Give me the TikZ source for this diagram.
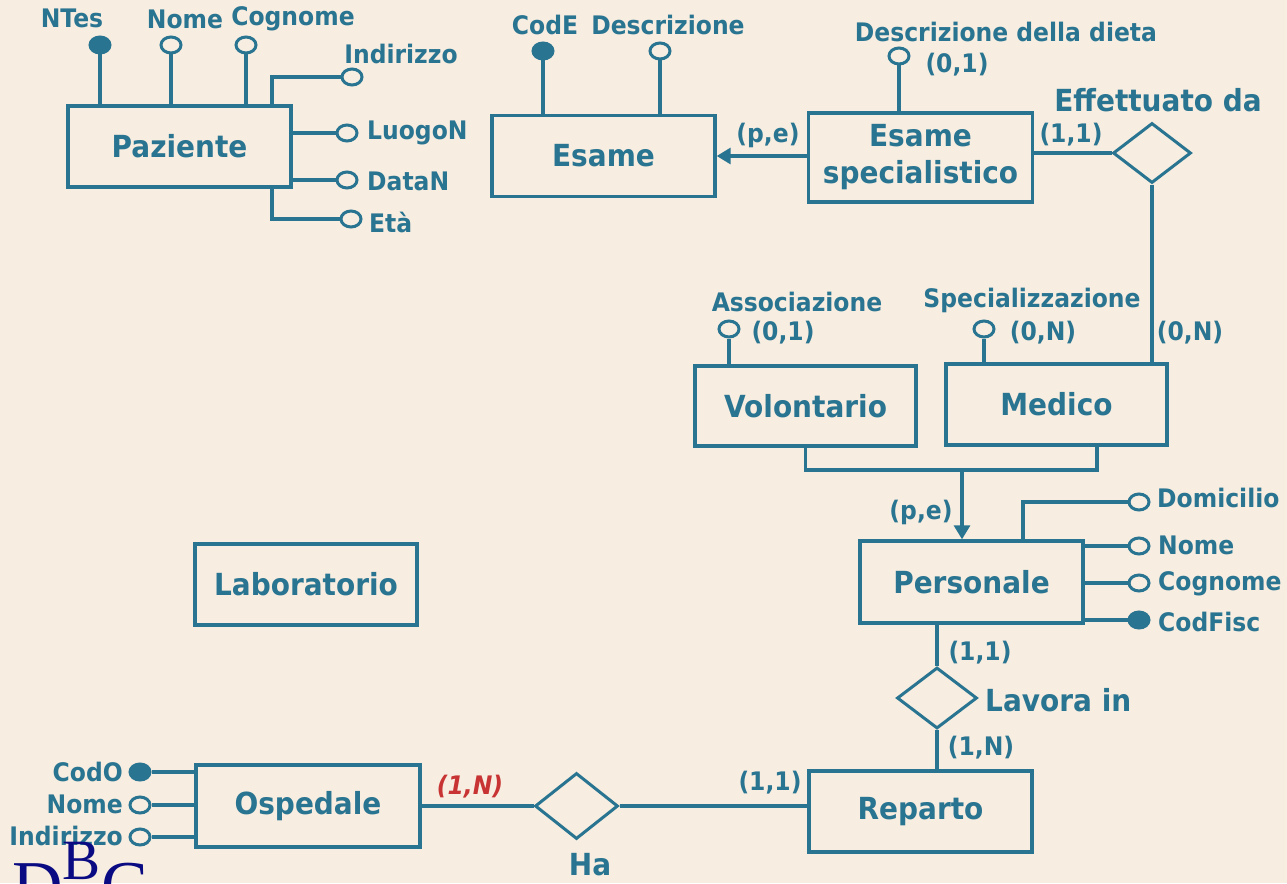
\documentclass[tikz,border=0pt]{standalone}
\usepackage{fontspec}
\setmainfont{DejaVu Sans}[FakeStretch=0.92]
\newfontfamily\logofont{Liberation Serif}
\usetikzlibrary{shapes.geometric,arrows.meta}
\definecolor{er}{RGB}{41,116,145}
\definecolor{bg}{RGB}{247,237,224}
\definecolor{card}{RGB}{200,52,52}
\definecolor{navy}{RGB}{10,10,130}
\tikzset{
 ent/.style={draw=er, line width=3.4pt, minimum width=223pt, minimum height=81pt, inner sep=0pt, text=er, font=\bfseries\fontsize{30.4}{37}\selectfont, align=center},
 rel/.style={diamond, draw=er, line width=3pt, minimum width=78pt, minimum height=60pt, inner sep=0pt},
 attr/.style={ellipse, draw=er, line width=3pt, minimum width=20pt, minimum height=16pt, inner sep=0pt, fill=bg},
 keyattr/.style={attr, fill=er},
 lbl/.style={text=er, font=\bfseries\fontsize{25.5}{28}\selectfont, inner sep=0pt},
 rlbl/.style={text=er, font=\bfseries\fontsize{30.4}{34}\selectfont, inner sep=0pt},
 redlbl/.style={text=card, font=\bfseries\itshape\fontsize{25.5}{28}\selectfont, inner sep=0pt},
 conn/.style={draw=er, line width=3.2pt},
 isa/.style={conn, -{Triangle[length=14pt,width=16pt]}},
}
\begin{document}
\begin{tikzpicture}[x=1pt,y=-1pt]
\fill[bg] (0,0) rectangle (1287,883);
\useasboundingbox (0,0) rectangle (1287,883);
\clip (0,0) rectangle (1287,883);

% entities
\node[ent] (paz) at (179.5,146.5) {Paziente};
\node[ent] (esame) at (603.5,156) {Esame};
\node[ent, minimum width=224pt, minimum height=89pt] (esspec) at (920.5,157.5) {Esame\\specialistico};
\node[ent, minimum width=221pt, minimum height=80pt] (vol) at (805.5,406) {Volontario};
\node[ent, minimum width=221pt] (med) at (1056.5,404.5) {Medico};
\node[ent, minimum height=82pt] (pers) at (971.5,582) {Personale};
\node[ent] (rep) at (920.5,811.5) {Reparto};
\node[ent, minimum width=224pt, minimum height=82pt] (osp) at (308,806) {Ospedale};
\node[ent, minimum width=222pt] (lab) at (306,584.5) {Laboratorio};

% relationships
\node[rel] (eff) at (1152,153) {};
\node[rel, minimum height=61pt, minimum width=80pt] (lav) at (937,698) {};
\node[rel, minimum width=83pt, minimum height=66pt] (ha) at (576.5,806) {};
\node[rlbl] (efflbl) at (1158,100) {Effettuato da};
\node[rlbl, anchor=west] (lavlbl) at (985,700) {Lavora in};
\node[rlbl] (halbl) at (590,865) {Ha};

% Paziente attributes
\coordinate (pk) at (272,0);
\node[keyattr] (ntes) at (100,45) {};
\node[attr] (pnome) at (171,45) {};
\node[attr] (pcogn) at (246,45) {};
\node[attr] (pind) at (352,77) {};
\node[attr] (pluogo) at (347,133) {};
\node[attr] (pdata) at (347,180) {};
\node[attr] (peta) at (351,219) {};
\node[lbl] (ntesl) at (72,18) {NTes};
\node[lbl] (pnomel) at (185,19) {Nome};
\node[lbl] (pcognl) at (293,19) {Cognome};
\node[lbl] (pindl) at (401,54) {Indirizzo};
\node[lbl, anchor=west] (pluogol) at (367,133) {LuogoN};
\node[lbl, anchor=west] (pdatal) at (367,181) {DataN};
\node[lbl, anchor=west] (petal) at (369,222) {Età};
\draw[conn] (ntes) -- (ntes |- paz.north);
\draw[conn] (pnome) -- (pnome |- paz.north);
\draw[conn] (pcogn) -- (pcogn |- paz.north);
\draw[conn] (pind) -| (pk |- paz.north);
\draw[conn] (pluogo) -- (pluogo -| paz.east);
\draw[conn] (pdata) -- (pdata -| paz.east);
\draw[conn] (peta) -| (pk |- paz.south);

% Esame attributes
\node[keyattr] (code) at (543,51) {};
\node[attr] (edesc) at (660,51) {};
\node[lbl] (codel) at (545,25) {CodE};
\node[lbl] (edescl) at (668,25) {Descrizione};
\draw[conn] (code) -- (code |- esame.north);
\draw[conn] (edesc) -- (edesc |- esame.north);

% Esame specialistico
\node[attr] (dieta) at (899,56) {};
\node[lbl] (dietal) at (1006,32) {Descrizione della dieta};
\node[lbl] (dietac) at (957,65) {(0,1)};
\draw[conn] (dieta) -- (dieta |- esspec.north);
\draw[isa] (esspec.west |- esame.east) -- (esame.east);
\node[lbl] (pe1) at (768,135) {(p,e)};
\draw[conn] (eff.west) -- (eff.west -| esspec.east);
\node[lbl] (c11a) at (1071,135) {(1,1)};
\draw[conn] (eff.south) -- (eff.south |- med.north);
\node[lbl] (c0na) at (1190,333) {(0,N)};

% Volontario / Medico
\node[attr] (assoc) at (729,329) {};
\node[lbl] (assocl) at (797,302) {Associazione};
\node[lbl] (assocc) at (783,333) {(0,1)};
\draw[conn] (assoc) -- (assoc |- vol.north);
\node[attr] (spec) at (984,329) {};
\node[lbl] (specl) at (1032,300) {Specializzazione};
\node[lbl] (specc) at (1043,333) {(0,N)};
\draw[conn] (spec) -- (spec |- med.north);

% generalization
\coordinate (g) at (962,470);
\coordinate (mb) at (1097,0);
\draw[conn] (vol.south) |- (g) -| (mb |- med.south);
\draw[isa] (g) -- (g |- pers.north);
\node[lbl] (pe2) at (921,512) {(p,e)};

% Personale attributes
\coordinate (pk2) at (1023,0);
\node[attr] (dom) at (1139,502) {};
\node[attr] (pernome) at (1139,546) {};
\node[attr] (percogn) at (1139,583) {};
\node[keyattr] (codf) at (1139,620) {};
\node[lbl, anchor=west] (doml) at (1157,498) {Domicilio};
\node[lbl, anchor=west] (pernomel) at (1158,545) {Nome};
\node[lbl, anchor=west] (percognl) at (1158,584) {Cognome};
\node[lbl, anchor=west] (codfl) at (1158,622) {CodFisc};
\draw[conn] (dom) -| (pk2 |- pers.north);
\draw[conn] (pernome) -- (pernome -| pers.east);
\draw[conn] (percogn) -- (percogn -| pers.east);
\draw[conn] (codf) -- (codf -| pers.east);

% Lavora in
\draw[conn] (lav.north) -- (lav.north |- pers.south);
\draw[conn] (lav.south) -- (lav.south |- rep.north);
\node[lbl] (c11b) at (980,653) {(1,1)};
\node[lbl] (c1nb) at (981,748) {(1,N)};

% Ha
\draw[conn] (ha.west) -- (ha.west -| osp.east);
\draw[conn] (ha.east) -- (ha.east -| rep.west);
\node[lbl] (c11c) at (770,783) {(1,1)};
\node[redlbl] (c1nc) at (470,787) {(1,N)};

% Ospedale attributes
\node[keyattr] (codo) at (140,772) {};
\node[attr] (onome) at (140,805) {};
\node[attr] (oind) at (140,837) {};
\node[lbl, anchor=east] (codol) at (123,772) {CodO};
\node[lbl, anchor=east] (onomel) at (123,804) {Nome};
\node[lbl, anchor=east] (oindl) at (123,836) {Indirizzo};
\draw[conn] (codo) -- (codo -| osp.west);
\draw[conn] (onome) -- (onome -| osp.west);
\draw[conn] (oind) -- (oind -| osp.west);

% logo
\node[anchor=base west, inner sep=0pt, text=navy, font=\logofont\fontsize{70}{70}\selectfont] (logod) at (12,909) {D};
\node[anchor=base west, inner sep=0pt, text=navy, font=\logofont\fontsize{57}{57}\selectfont] (logob) at (62,879) {B};
\node[anchor=base west, inner sep=0pt, text=navy, font=\logofont\fontsize{70}{70}\selectfont] (logoc) at (101,909) {C};
\end{tikzpicture}
\end{document}
